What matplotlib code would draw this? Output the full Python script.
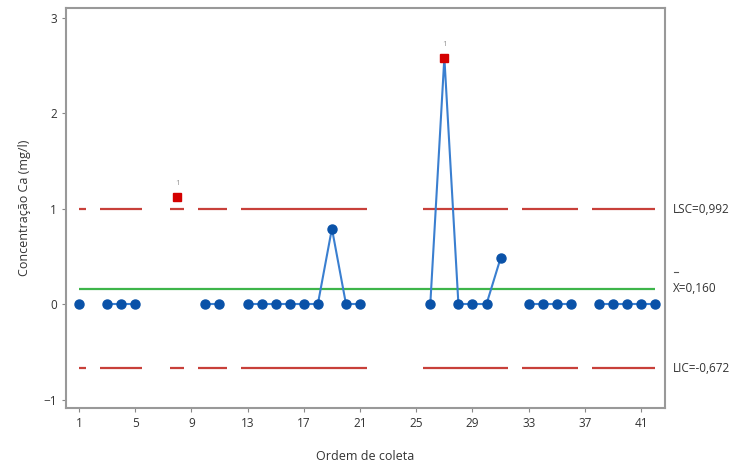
import numpy as np
import matplotlib.pyplot as plt
from matplotlib.lines import Line2D

plt.rcParams['font.family'] = ['Open Sans', 'DejaVu Sans']

# I-chart data, nan = sample not collected
ordem = np.arange(1, 43)
nan = np.nan
valores = [0, nan, 0, 0, 0, nan, nan, 1.12, nan, 0,
           0, nan, 0, 0, 0, 0, 0, 0, 0.79, 0,
           0, nan, nan, nan, nan, 0, 2.58, 0, 0, 0,
           0.48, nan, 0, 0, 0, 0, nan, 0, 0, 0,
           0, 0]
lsc = 0.992
media = 0.160
lic = -0.672
xticks = [1, 5, 9, 13, 17, 21, 25, 29, 33, 37, 41]

y = np.array(valores, dtype=float)
ok = ~np.isnan(y)

fig = plt.figure(figsize=(7.51, 4.68), dpi=100)
ax = fig.add_axes([0.0879, 0.128, 0.7976, 0.855])

# limit lines only where there is data (Minitab style)
segs = []
for i in ordem[ok]:
    a, b = max(i - 0.5, ordem[0]), min(i + 0.5, ordem[-1])
    if segs and abs(segs[-1][1] - a) < 1e-9:
        segs[-1][1] = b
    else:
        segs.append([a, b])
for a, b in segs:
    ax.hlines([lsc, lic], a, b, color='#c8403a', lw=1.6, zorder=2)

ax.hlines(media, ordem[0], ordem[-1], color='#3db54a', lw=1.6, zorder=2)

ax.plot(ordem, y, color='#3a7fd0', lw=1.5, zorder=3)
fora = ok & ((y > lsc) | (y < lic))
dentro = ok & ~fora
ax.plot(ordem[dentro], y[dentro], 'o', color='#0a52a8', ms=6.5, zorder=4)
ax.plot(ordem[fora], y[fora], 's', color='#d40000', ms=6, zorder=4)
for xi, yi in zip(ordem[fora], y[fora]):
    ax.text(xi, yi + 0.1, '1', color='#999999', fontsize=6, ha='center', va='bottom')

ax.set_xlim(0.08, 42.7)
ax.set_ylim(-1.09, 3.1)
ax.set_xticks(xticks)
ax.set_yticks([-1, 0, 1, 2, 3])
ax.tick_params(labelsize=8.5, colors='#333333', length=3, color='#888888')
for s in ax.spines.values():
    s.set_color('#999999')
    s.set_linewidth(1.5)

ax.set_xlabel('Ordem de coleta', fontsize=9, color='#333333', labelpad=14)
ax.set_ylabel('Concentração Ca (mg/l)', fontsize=9, color='#333333', labelpad=9)

tr = ax.get_yaxis_transform()
ax.text(1.013, lsc, 'LSC=0,992', transform=tr, fontsize=8.5, color='#333333', va='center')
ax.text(1.013, media, 'X=0,160', transform=tr, fontsize=8.5, color='#333333', va='center')
# bar over the X, drawn a bit above the label
ax.add_line(Line2D([1.0145, 1.022], [media + 0.17, media + 0.17], transform=tr,
                   color='#555555', lw=0.8, clip_on=False))
ax.text(1.013, lic, 'LIC=-0,672', transform=tr, fontsize=8.5, color='#333333', va='center')

fig.savefig('out.png', dpi=100)
